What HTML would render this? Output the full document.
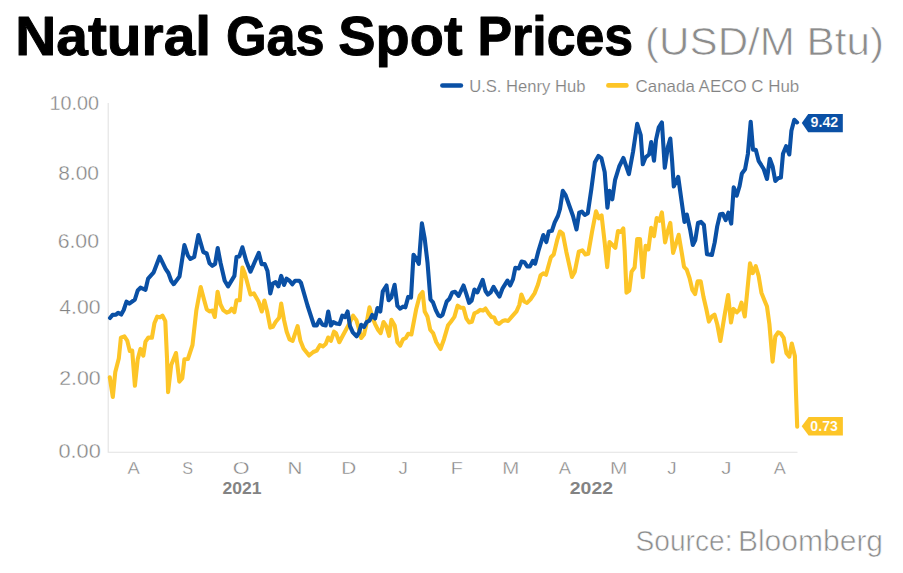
<!DOCTYPE html>
<html><head><meta charset="utf-8"><title>Natural Gas Spot Prices</title>
<style>
html,body{margin:0;padding:0;background:#fff;}
body{width:903px;height:573px;overflow:hidden;font-family:"Liberation Sans",sans-serif;}
svg{display:block;}
text{font-family:"Liberation Sans",sans-serif;}
</style></head><body>
<svg width="903" height="573" viewBox="0 0 903 573">
<rect width="903" height="573" fill="#fff"/>
<!-- title -->
<text x="15.31" y="54.5" font-size="56" font-weight="700" fill="#000" textLength="195.78" lengthAdjust="spacingAndGlyphs" stroke="#000" stroke-width="1" stroke-linejoin="round">Natural</text>
<text x="225.91" y="54.5" font-size="56" font-weight="700" fill="#000" textLength="98.68" lengthAdjust="spacingAndGlyphs" stroke="#000" stroke-width="1" stroke-linejoin="round">Gas</text>
<text x="338.32" y="54.5" font-size="56" font-weight="700" fill="#000" textLength="124.23" lengthAdjust="spacingAndGlyphs" stroke="#000" stroke-width="1" stroke-linejoin="round">Spot</text>
<text x="477.54" y="54.5" font-size="56" font-weight="700" fill="#000" textLength="155.68" lengthAdjust="spacingAndGlyphs" stroke="#000" stroke-width="1" stroke-linejoin="round">Prices</text>
<text x="645.08" y="54.9" font-size="38.8" fill="#8c8c8c" textLength="238.85" lengthAdjust="spacingAndGlyphs" stroke="#fff" stroke-width="0.7">(USD/M Btu)</text>
<!-- legend -->
<line x1="442.4" y1="85.5" x2="460.9" y2="85.5" stroke="#0a50a5" stroke-width="4.6" stroke-linecap="round"/>
<text x="469.15" y="92.1" font-size="16.5" fill="#838383" textLength="116.24" lengthAdjust="spacingAndGlyphs" stroke="#fff" stroke-width="0.16">U.S. Henry Hub</text>
<line x1="608.4" y1="85.4" x2="626.4" y2="85.4" stroke="#fdc527" stroke-width="4.6" stroke-linecap="round"/>
<text x="635.57" y="92.0" font-size="16.5" fill="#838383" textLength="163.71" lengthAdjust="spacingAndGlyphs" stroke="#fff" stroke-width="0.16">Canada AECO C Hub</text>
<!-- axes -->
<path d="M108.2 103 V452.2 H797.5" fill="none" stroke="#e2e2e2" stroke-width="1.1"/>
<text x="49.52" y="110.0" font-size="19.4" fill="#838383" textLength="49.43" lengthAdjust="spacingAndGlyphs" stroke="#fff" stroke-width="0.35">10.00</text>
<text x="58.22" y="180.4" font-size="19.4" fill="#838383" textLength="40.78" lengthAdjust="spacingAndGlyphs" stroke="#fff" stroke-width="0.35">8.00</text>
<text x="57.67" y="248.3" font-size="19.4" fill="#838383" textLength="41.34" lengthAdjust="spacingAndGlyphs" stroke="#fff" stroke-width="0.35">6.00</text>
<text x="59.34" y="313.79999999999995" font-size="19.4" fill="#838383" textLength="41.07" lengthAdjust="spacingAndGlyphs" stroke="#fff" stroke-width="0.35">4.00</text>
<text x="59.27" y="385.4" font-size="19.4" fill="#838383" textLength="41.45" lengthAdjust="spacingAndGlyphs" stroke="#fff" stroke-width="0.35">2.00</text>
<text x="58.56" y="458.2" font-size="19.4" fill="#838383" textLength="42.16" lengthAdjust="spacingAndGlyphs" stroke="#fff" stroke-width="0.35">0.00</text>
<text x="127.47" y="474.1" font-size="17" fill="#838383" textLength="12.27" lengthAdjust="spacingAndGlyphs" stroke="#fff" stroke-width="0.35">A</text>
<text x="182.18" y="474.1" font-size="17" fill="#838383" textLength="10.75" lengthAdjust="spacingAndGlyphs" stroke="#fff" stroke-width="0.35">S</text>
<text x="232.82" y="474.1" font-size="17" fill="#838383" textLength="16.78" lengthAdjust="spacingAndGlyphs" stroke="#fff" stroke-width="0.35">O</text>
<text x="287.52" y="474.1" font-size="17" fill="#838383" textLength="14.84" lengthAdjust="spacingAndGlyphs" stroke="#fff" stroke-width="0.35">N</text>
<text x="341.2" y="474.1" font-size="17" fill="#838383" textLength="14.98" lengthAdjust="spacingAndGlyphs" stroke="#fff" stroke-width="0.35">D</text>
<text x="398.42" y="474.1" font-size="17" fill="#838383" textLength="9.32" lengthAdjust="spacingAndGlyphs" stroke="#fff" stroke-width="0.35">J</text>
<text x="450.88" y="474.1" font-size="17" fill="#838383" textLength="12.1" lengthAdjust="spacingAndGlyphs" stroke="#fff" stroke-width="0.35">F</text>
<text x="502.22" y="474.1" font-size="17" fill="#838383" textLength="17.04" lengthAdjust="spacingAndGlyphs" stroke="#fff" stroke-width="0.35">M</text>
<text x="558.87" y="474.1" font-size="17" fill="#838383" textLength="12.17" lengthAdjust="spacingAndGlyphs" stroke="#fff" stroke-width="0.35">A</text>
<text x="610.09" y="474.1" font-size="17" fill="#838383" textLength="17.42" lengthAdjust="spacingAndGlyphs" stroke="#fff" stroke-width="0.35">M</text>
<text x="667.32" y="474.1" font-size="17" fill="#838383" textLength="9.32" lengthAdjust="spacingAndGlyphs" stroke="#fff" stroke-width="0.35">J</text>
<text x="721.39" y="474.1" font-size="17" fill="#838383" textLength="10.17" lengthAdjust="spacingAndGlyphs" stroke="#fff" stroke-width="0.35">J</text>
<text x="773.87" y="474.1" font-size="17" fill="#838383" textLength="12.07" lengthAdjust="spacingAndGlyphs" stroke="#fff" stroke-width="0.35">A</text>
<text x="222.41" y="493.6" font-size="15.8" font-weight="700" fill="#838383" textLength="39.08" lengthAdjust="spacingAndGlyphs">2021</text>
<text x="569.75" y="493.6" font-size="15.8" font-weight="700" fill="#838383" textLength="43.29" lengthAdjust="spacingAndGlyphs">2022</text>
<!-- series -->
<polyline points="109.8,377.4 112.8,397 115.3,371.9 118.8,358.6 120.9,337.7 124.4,336.4 127.2,340.6 129.8,351 132.2,350.6 134.9,385.8 137.7,359.3 140.5,348.9 143.3,355.6 145.5,341.6 148.4,337.5 151.9,337.8 154.4,323.3 157.2,316.6 160,317.4 162.5,315.6 165.3,321.2 167,357.9 168.1,392.1 171.2,364.9 176,353 179.3,381.6 182.3,378.1 184.4,359.3 187.9,359 192.5,345 196.3,310.7 200.7,287 204,299.5 206.7,309.3 209.5,311.4 212.5,310.6 214.8,317 217.6,291.8 220.5,304.5 223.3,310.1 226.7,312.6 229.5,311.5 231.6,308.7 234.4,312.2 236.5,300.3 239.7,300.3 242.4,267.6 244.9,273.8 250.5,294.5 253.8,293.4 258.5,301.5 261.8,311.5 264.4,300.5 267.2,311.5 270.3,327.6 272.8,326.9 275.6,322 279.1,317.8 281.2,303.5 284,319.9 286.7,331.7 289.5,339.4 292.6,340.8 297.6,326.2 300.4,340.8 303.5,348.5 309.1,355.5 313.3,352 316.7,350.6 320,345 322.9,346.4 325.7,344 328.2,337.5 330.9,340.8 334,331.7 336,333.1 339.3,342.2 343,335.2 347.2,327.6 353.1,315.7 356.3,319.9 358.4,326.9 361.2,338 364,334.5 366.7,322.7 369.5,307.3 372.3,317.1 375.1,324.1 377.9,329.7 380.7,333.1 383.5,322 386.3,326.2 389.1,335.9 391.4,319.9 394.7,325.5 397.4,342.2 400.2,345.7 403,339.4 405.8,338 408.2,333.8 411.4,334.5 416.3,308.7 419.8,295.5 422.6,292 424.7,311.5 427.4,316.4 430.2,329.7 433.2,333.3 436.2,342 440.5,349 444,339.2 448.1,325.2 450.9,321.7 454.4,316.9 457.6,305.7 460.7,307.8 463.5,307.8 466.3,318.3 469.1,322.4 471.9,321.7 474.4,313.4 477.4,312 480.2,309.9 483,310.6 485.5,308.5 488.6,313.4 491.4,316.9 494.2,317.6 496.3,322.4 499.1,323.8 502.6,321 505.3,320.3 508.1,321 512.3,316.2 516.5,311.3 519.3,305 521.4,294.5 524.2,301.5 527,302.9 530.5,299.4 534.7,293.1 538,284.5 540.5,275.5 543.3,273.4 546,274.8 550.9,257.3 553.7,254.5 557.2,239.9 560,231.5 562.8,233.6 566.3,251.7 571.9,276.9 574.7,272 578.8,251.7 582.3,250.3 585.4,254.5 588.2,253.8 592.1,231.5 596,211.3 598.8,218.3 601.6,215.5 604.7,242.7 607.2,267.1 609.5,242 612.5,245 615.3,247.8 618,231 620.9,232 623.3,228.5 624.7,250.8 626.5,292.6 629.3,290.5 631.6,271.6 634.6,267.5 637.2,239 640,239 642.8,277.2 645.6,245.9 648.4,249.4 651.2,227.8 654,236.2 656.7,218 659.5,220.8 661.9,212.4 665.1,242.4 667.5,232 670.3,222.9 673.1,252.9 675.9,243.8 678.7,234.8 681.9,253.6 684,266.8 686.7,269.6 689.5,277.9 692.3,289.8 695.1,294 697.6,281.4 700.7,281.4 703.5,297 706.3,309 708.9,321.6 711.9,316.4 714.5,314.6 717.3,324.5 720.4,341 724.4,316.4 728.1,295 731,322.5 733.5,308.9 736.8,312.4 739.1,310.1 741.5,302.6 744.8,316.4 747.4,289.9 750,263.4 752.7,273.1 755.8,266.2 758.6,275.9 761.4,292.7 764.2,299.7 767,306.6 769.4,324 772.6,361.6 775.3,336.5 778.1,332.3 780.9,333.7 783.7,337.9 786.5,353.3 789.3,356.7 791.8,343.5 794.9,356 795.9,390 797.2,426.7" fill="none" stroke="#fdc527" stroke-width="4.1" stroke-linejoin="round" stroke-linecap="round"/>
<polyline points="110.0,318 112.6,314.9 116,314.6 118.1,312.8 121.2,314.6 123.7,310 126.5,301.6 129.3,303.7 134.9,299.5 137.7,290.5 140.5,287.7 145.5,289.8 148.1,278.6 153.7,272.3 159.7,256.6 165.6,268.8 168.4,273 171.2,280.7 173.7,284.2 179.5,276.5 184.4,245.1 187.9,255.6 190.4,259 194.2,257 198.4,235 203.3,252 206.7,253.5 209.5,263.3 212.3,265.8 215.1,264 217.7,248 220.5,262.7 224.7,280.8 228.1,286.4 234.4,275.9 236.5,257.1 239.3,256.4 242.4,247.3 246.3,261.3 250.5,271.7 254.7,262 258.8,252.9 261.6,264.1 264.7,264.1 267.5,271 270.3,293.4 272.8,283.6 275.6,282.2 278.4,286.4 281.2,275.9 284,285 286.5,278.7 289.5,280.8 292.3,284.3 295.1,280.8 299.3,280.8 301,282.9 307.5,305.5 314,325.5 316.7,325.5 319.5,319.9 322.5,324.8 325.7,325.5 328.2,311.5 330.9,325.5 333.3,322 336,323.4 339.5,324.1 342.3,315.7 345.1,317.1 347.6,311.5 350,326.2 352.8,332.4 356.6,336.3 359.1,332.4 361.2,324.8 364,326.9 366.7,322 369.5,320.6 372.3,315 375.1,318.5 377.5,308 380.3,311.5 382.8,291.3 386.5,285.5 388.6,300.3 391.2,297.6 394.6,284.8 397.4,305.9 400.2,308.7 403,306.6 405.4,307.3 408.2,296.9 411,297.6 413.5,254.8 416,258.3 418.8,263.8 421.9,223.4 424.7,238.7 427.5,262.4 429.7,290 430.5,299.5 433,302.4 435.8,310.1 438.6,315.7 440.5,316.4 442.5,314.8 446.7,301.5 449.5,298.7 452.3,292.4 455.1,291.7 458.6,295.9 463.5,285.5 466.3,293.8 469.1,302.9 471.6,300.8 474.4,289.6 477.4,292.4 482.7,279.9 485.5,291 487.9,294.5 490.7,292.4 493.5,286.9 496.7,292.4 499.5,296.6 502.6,288.3 507.4,280.6 510.2,285.5 513,279.2 515.3,267.8 518.8,268.5 521.6,261.5 524.4,262.2 527.2,266.4 530,266.4 532.8,260.8 535.2,263.6 538.4,251 543.3,235 546.3,242 548.8,231.5 551.9,230.8 554.7,222.4 557.9,216 560,209 562.8,190.9 565.6,195.1 569.8,207 573,216 576.5,229.4 579.2,212.7 581.9,211.6 584.8,215 587.8,213.3 591.4,188.8 594.9,162.3 598.4,156 601.4,158.1 604.7,172.1 607.4,207.7 609.5,190.9 612.3,199.3 615.1,179.8 619.2,166.5 623.4,158 628.9,174.1 633,152 637.2,123.8 640.7,135 642.8,164.3 645.6,157.3 649.1,154.5 651.2,142 654,160.8 656,139.9 658.8,127.3 661.9,122.4 664.8,167.8 667.9,146.9 670.3,138.5 672.1,160.8 673.8,186.5 678.2,176.9 681.6,201.3 684.5,222 686.8,214.5 690.1,229.5 692.8,245 695.3,240 698,223 701,221.8 703.9,225 707,254.3 711.9,255 714.7,242.4 717.2,226.4 720.1,214.2 722.8,213.8 725.7,220.1 728.4,212.6 731.2,223.6 733.7,187.3 736.7,195.7 739.6,186 741.9,173.4 745.1,169.2 747.9,153.8 750.7,121.7 753,149.7 755.8,149.7 758.6,160.8 763.7,169 767,179 769.8,158.7 772.6,166.4 775.3,181 778.1,178.3 780.9,177.6 783,153.8 786.1,146.2 789.3,154.5 791.4,130.8 794.3,119.8 797.1,122.4" fill="none" stroke="#0a50a5" stroke-width="4.1" stroke-linejoin="round" stroke-linecap="round"/>
<!-- value tags -->
<path d="M801.8 123 L808.2 114.1 H842.8 V132.2 H808.2 Z" fill="#0a50a5"/>
<text x="810.57" y="127.0" font-size="14.1" font-weight="700" fill="#fff" textLength="27.66" lengthAdjust="spacingAndGlyphs" stroke="#0a50a5" stroke-width="0.12">9.42</text>
<path d="M801.7 426.2 L808.6 417.1 H842.9 V435.5 H808.6 Z" fill="#fdc527"/>
<text x="810.37" y="431.0" font-size="14.1" font-weight="700" fill="#fff" textLength="27.5" lengthAdjust="spacingAndGlyphs" stroke="#fdc527" stroke-width="0.12">0.73</text>
<!-- source -->
<text x="635.59" y="551.0" font-size="30.0" fill="#8c8c8c" textLength="96.93" lengthAdjust="spacingAndGlyphs" stroke="#fff" stroke-width="0.6">Source:</text>
<text x="737.9" y="551.0" font-size="30.0" fill="#8c8c8c" textLength="145.18" lengthAdjust="spacingAndGlyphs" stroke="#fff" stroke-width="0.6">Bloomberg</text>
</svg>
</body></html>
